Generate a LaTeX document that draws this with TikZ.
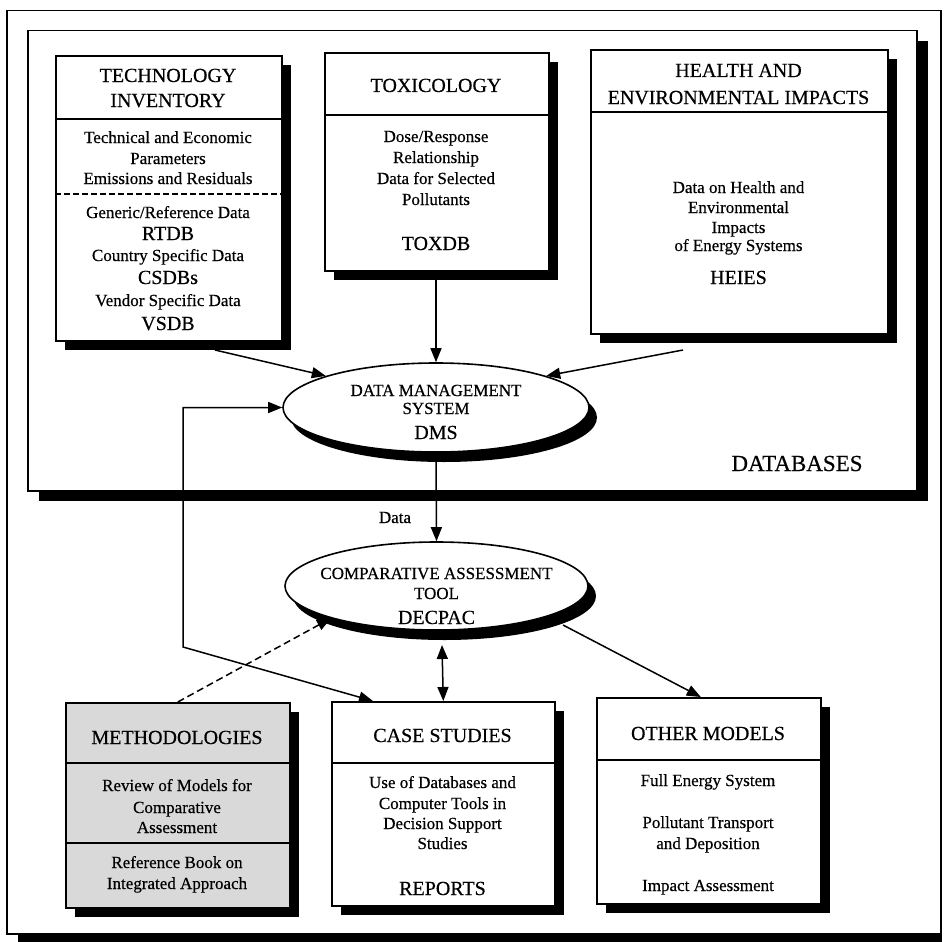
\documentclass[tikz,border=0pt]{standalone}
\usepackage{fontspec}
\setmainfont{Liberation Serif}[FakeBold=0.45]
\usetikzlibrary{shapes.geometric,shadows,arrows.meta}
\begin{document}
\begin{tikzpicture}[x=1pt,y=-1pt,
  frame/.style={draw, line width=1.5pt, anchor=north west, inner sep=0pt},
  box/.style={draw, fill=white, line width=1.6pt, anchor=north west, inner sep=0pt,
    drop shadow={shadow xshift=9pt, shadow yshift=-9pt, opacity=1, fill=black}},
  graybox/.style={box, fill=black!15},
  ell/.style={ellipse, draw, fill=white, line width=1.6pt, inner sep=0pt,
    drop shadow={shadow xshift=8pt, shadow yshift=-10pt, opacity=1, fill=black}},
  body/.style={anchor=base, inner sep=0pt, font=\fontsize{17}{20}\selectfont},
  ttl/.style={anchor=base, inner sep=0pt, font=\fontsize{20}{24}\selectfont},
  divider/.style={line width=1.6pt},
  arr/.style={line width=1.5pt, -{Triangle[length=14pt,width=11pt]}},
  darr/.style={line width=1.5pt, {Triangle[length=14pt,width=11pt]}-{Triangle[length=14pt,width=11pt]}},
  dasharr/.style={line width=1.5pt, dash pattern=on 7pt off 4pt, -{Triangle[length=14pt,width=11pt]}}
]
\useasboundingbox (0,0) rectangle (945,942);

% outer frame
\node[frame, minimum width=934pt, minimum height=923pt] (outer) at (6,10) {};
\fill ([xshift=12pt]outer.south west) rectangle ([yshift=-7pt]outer.south east);

% databases frame
\node[frame, fill=white, minimum width=889pt, minimum height=460pt,
  drop shadow={shadow xshift=11pt, shadow yshift=-10pt, opacity=1, fill=black}] (db) at (27,30) {};
\node[anchor=base, inner sep=0pt, font=\fontsize{23}{27}\selectfont] (dblabel) at (797,471) {DATABASES};

% technology inventory
\node[box, minimum width=226pt, minimum height=285pt] (tech) at (55,55) {};
\draw[divider] (tech.west |- 0,119) -- (tech.east |- 0,119);
\draw[line width=1.3pt, dash pattern=on 6pt off 3pt] (tech.west |- 0,194) -- (tech.east |- 0,194);
\node[ttl] (t1) at (168,82) {TECHNOLOGY};
\node[ttl] (t2) at (168,107) {INVENTORY};
\node[body] (t3) at (168,143) {Technical and Economic};
\node[body] (t4) at (168,164) {Parameters};
\node[body] (t5) at (168,184) {Emissions and Residuals};
\node[body] (t6) at (168,218) {Generic/Reference Data};
\node[ttl] (t7) at (168,240) {RTDB};
\node[body] (t8) at (168,261) {Country Specific Data};
\node[ttl] (t9) at (168,284) {CSDBs};
\node[body] (t10) at (168,306) {Vendor Specific Data};
\node[ttl] (t11) at (168,330) {VSDB};

% toxicology
\node[box, minimum width=224pt, minimum height=218pt] (tox) at (324,52) {};
\draw[divider] (tox.west |- 0,115) -- (tox.east |- 0,115);
\node[ttl] (x1) at (436,92) {TOXICOLOGY};
\node[body] (x2) at (436,142) {Dose/Response};
\node[body] (x3) at (436,163) {Relationship};
\node[body] (x4) at (436,184) {Data for Selected};
\node[body] (x5) at (436,205) {Pollutants};
\node[ttl] (x6) at (436,250) {TOXDB};

% health
\node[box, minimum width=297pt, minimum height=284pt] (health) at (590,49) {};
\draw[divider] (health.west |- 0,112) -- (health.east |- 0,112);
\node[ttl] (h1) at (738.5,77) {HEALTH AND};
\node[ttl] (h2) at (738.5,104) {ENVIRONMENTAL IMPACTS};
\node[body] (h3) at (738.5,193) {Data on Health and};
\node[body] (h4) at (738.5,213) {Environmental};
\node[body] (h5) at (738.5,233) {Impacts};
\node[body] (h6) at (738.5,251) {of Energy Systems};
\node[ttl] (h7) at (738.5,284) {HEIES};

% DMS
\node[ell, minimum width=306pt, minimum height=89pt] (dms) at (436,407.5) {};
\node[body] (d1) at (436,396) {DATA MANAGEMENT};
\node[body] (d2) at (436,414) {SYSTEM};
\node[ttl] (d3) at (436,439) {DMS};

% CAT
\node[ell, minimum width=303pt, minimum height=88pt] (cat) at (436.5,586) {};
\node[body] (c1) at (436.5,579) {COMPARATIVE ASSESSMENT};
\node[body] (c2) at (436.5,599) {TOOL};
\node[ttl] (c3) at (436.5,624) {DECPAC};
\node[body] (datalbl) at (395,523) {Data};

% methodologies
\node[graybox, minimum width=224pt, minimum height=205pt] (meth) at (65,702) {};
\draw[divider] (meth.west |- 0,763) -- (meth.east |- 0,763);
\draw[divider] (meth.west |- 0,843) -- (meth.east |- 0,843);
\node[ttl] (m1) at (177,744) {METHODOLOGIES};
\node[body] (m2) at (177,791) {Review of Models for};
\node[body] (m3) at (177,813) {Comparative};
\node[body] (m4) at (177,833) {Assessment};
\node[body] (m5) at (177,868) {Reference Book on};
\node[body] (m6) at (177,889) {Integrated Approach};

% case studies
\node[box, minimum width=223pt, minimum height=204pt] (case) at (331,701) {};
\draw[divider] (case.west |- 0,763) -- (case.east |- 0,763);
\node[ttl] (s1) at (442.5,742) {CASE STUDIES};
\node[body] (s2) at (442.5,788) {Use of Databases and};
\node[body] (s3) at (442.5,809) {Computer Tools in};
\node[body] (s4) at (442.5,829) {Decision Support};
\node[body] (s5) at (442.5,849) {Studies};
\node[ttl] (s6) at (442.5,895) {REPORTS};

% other models
\node[box, minimum width=224pt, minimum height=206pt] (other) at (596,697) {};
\draw[divider] (other.west |- 0,760) -- (other.east |- 0,760);
\node[ttl] (o1) at (708,740) {OTHER MODELS};
\node[body] (o2) at (708,786) {Full Energy System};
\node[body] (o3) at (708,828) {Pollutant Transport};
\node[body] (o4) at (708,849) {and Deposition};
\node[body] (o5) at (708,891) {Impact Assessment};

% connectors
\coordinate (techout) at (215,350);
\coordinate (healthout) at (683,350);
\coordinate (toxout) at (436,280);
\coordinate (dmsout) at (436,462);
\coordinate (catdown) at (442,645);
\coordinate (catout) at (563,625);
\coordinate (fbcorner) at (183,647);
\draw[arr] (techout) -- (dms.164);
\draw[arr] (healthout) -- (dms.16);
\draw[arr] (toxout) -- (dms.north);
\draw[arr] (dmsout) -- (cat.north);
\draw[darr] (catdown) -- (case.north);
\draw[arr] (catout) -- ([xshift=-8pt]other.north);
\draw[dasharr] (meth.north) -- (cat.197);
\draw[darr] (dms.west) -| (fbcorner) -- ([xshift=42pt]case.north west);
\end{tikzpicture}
\end{document}
